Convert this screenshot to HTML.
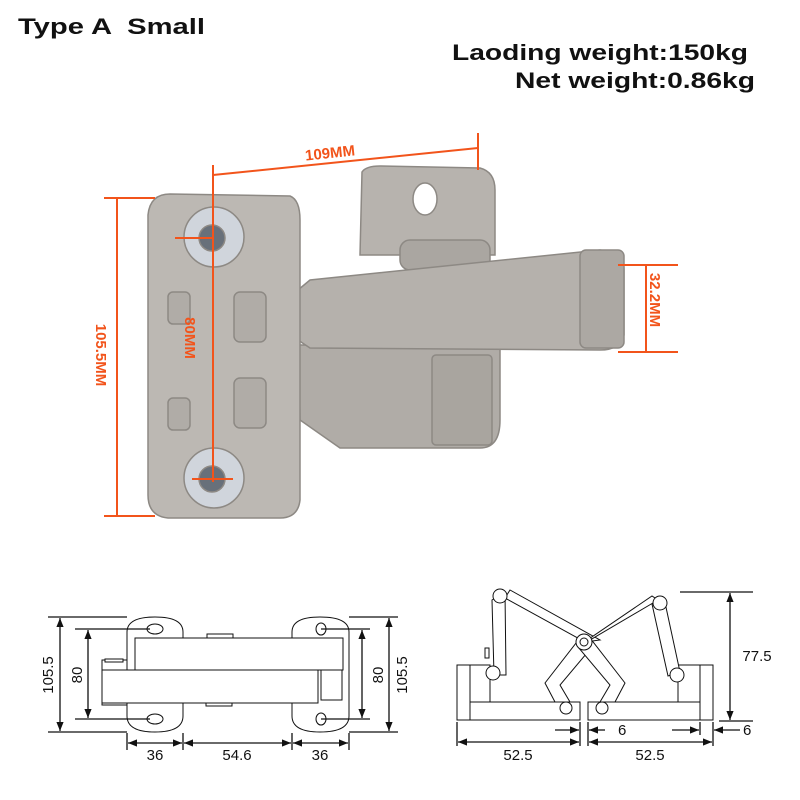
<!DOCTYPE html>
<html><head><style>
html,body{margin:0;padding:0;background:#fff;width:800px;height:800px;overflow:hidden}
svg{display:block}
text{font-family:"Liberation Sans","DejaVu Sans",sans-serif}
</style></head><body>
<svg width="800" height="800" viewBox="0 0 800 800" xmlns="http://www.w3.org/2000/svg">
<defs>
<marker id="a" viewBox="0 0 10 10" refX="10" refY="5" markerWidth="7" markerHeight="7" orient="auto-start-reverse"><path d="M0 1 L10 5 L0 9 Z" fill="#111"/></marker>
</defs>
<text x="18" y="34" font-size="22" font-weight="bold" fill="#111" textLength="187" lengthAdjust="spacingAndGlyphs" xml:space="preserve">Type A  Small</text>
<text x="452" y="60" font-size="22" font-weight="bold" fill="#111" textLength="296" lengthAdjust="spacingAndGlyphs">Laoding weight:150kg</text>
<text x="515" y="88" font-size="22" font-weight="bold" fill="#111" textLength="240" lengthAdjust="spacingAndGlyphs">Net weight:0.86kg</text>

<!-- hinge photo -->
<g stroke="#8d8984" stroke-width="1.5">
<path d="M362 172 Q366 166 380 166 L480 168 Q495 172 495 190 L495 255 L360 255 Z" fill="#b7b3ae"/>
<ellipse cx="425" cy="199" rx="12" ry="16" fill="#fff"/>
<rect x="400" y="240" width="90" height="30" rx="10" fill="#aaa6a1"/>
<path d="M298 300 L298 330 L300 345 L500 345 L500 420 Q500 448 480 448 L340 448 L300 420 Z" fill="#b0aca7"/>
<rect x="432" y="355" width="60" height="90" rx="4" fill="#a9a59f"/>
<path d="M298 290 L310 280 L600 250 Q624 252 624 270 L624 335 Q620 350 600 350 L310 348 L298 340 Z" fill="#b5b1ac"/>
<rect x="580" y="250" width="44" height="98" rx="6" fill="#aca8a3"/>
<path d="M170 194 L290 196 Q300 200 300 220 L300 500 Q298 518 280 518 L168 518 Q148 516 148 495 L148 215 Q150 194 170 194 Z" fill="#bcb8b3"/>
<circle cx="214" cy="237" r="30" fill="#d0d5dc"/>
<circle cx="212" cy="238" r="13" fill="#68707a"/>
<circle cx="214" cy="478" r="30" fill="#d0d5dc"/>
<circle cx="212" cy="479" r="13" fill="#68707a"/>
<rect x="168" y="292" width="22" height="32" rx="5" fill="#b0aca7"/>
<rect x="234" y="292" width="32" height="50" rx="6" fill="#b0aca7"/>
<rect x="234" y="378" width="32" height="50" rx="6" fill="#b0aca7"/>
<rect x="168" y="398" width="22" height="32" rx="5" fill="#b0aca7"/>
</g>

<!-- orange dims -->
<g stroke="#f2541b" stroke-width="2" fill="none">
<line x1="213" y1="165" x2="213" y2="482"/>
<line x1="478" y1="133" x2="478" y2="170"/>
<line x1="213" y1="175" x2="478" y2="148"/>
<line x1="117" y1="198" x2="117" y2="516"/>
<line x1="104" y1="198" x2="155" y2="198"/>
<line x1="104" y1="516" x2="155" y2="516"/>
<line x1="175" y1="238" x2="213" y2="238"/>
<line x1="192" y1="479" x2="233" y2="479"/>
<line x1="646" y1="265" x2="646" y2="352"/>
<line x1="618" y1="265" x2="678" y2="265"/>
<line x1="618" y1="352" x2="678" y2="352"/>
</g>
<g fill="#f2541b" font-size="15" font-weight="bold">
<text x="305" y="158" transform="rotate(-6 330 153)">109MM</text>
<text transform="translate(185,338) rotate(90)" text-anchor="middle">80MM</text>
<text transform="translate(96,355) rotate(90)" text-anchor="middle">105.5MM</text>
<text transform="translate(650,300) rotate(90)" text-anchor="middle">32.2MM</text>
</g>

<!-- bottom-left drawing -->
<g stroke="#111" stroke-width="1" fill="#fff">
<rect x="102" y="660" width="40" height="45"/>
<path d="M127 632 Q127 617 155 617 Q183 617 183 632 L183 716 Q183 732 155 732 Q127 732 127 716 Z"/>
<path d="M292 632 Q292 617 320 617 Q349 617 349 632 L349 716 Q349 732 320 732 Q292 732 292 716 Z"/>
<rect x="207" y="634" width="26" height="5"/>
<rect x="206" y="702" width="26" height="4"/>
<rect x="135" y="638" width="208" height="32"/>
<rect x="102" y="670" width="216" height="33"/>
<rect x="105" y="659" width="18" height="3"/>
<rect x="321" y="670" width="21" height="30"/>
<ellipse cx="155" cy="629" rx="8" ry="5"/>
<ellipse cx="155" cy="719" rx="8" ry="5"/>
<ellipse cx="321" cy="629" rx="5" ry="6"/>
<ellipse cx="321" cy="719" rx="5" ry="6"/>
</g>
<g stroke="#111" stroke-width="1.3" fill="none">
<line x1="48" y1="617" x2="127" y2="617"/><line x1="48" y1="732" x2="127" y2="732"/>
<line x1="60" y1="618" x2="60" y2="731" marker-start="url(#a)" marker-end="url(#a)"/>
<line x1="75" y1="629" x2="150" y2="629"/><line x1="75" y1="719" x2="150" y2="719"/>
<line x1="88" y1="630" x2="88" y2="718" marker-start="url(#a)" marker-end="url(#a)"/>
<line x1="349" y1="617" x2="398" y2="617"/><line x1="349" y1="732" x2="398" y2="732"/>
<line x1="389" y1="618" x2="389" y2="731" marker-start="url(#a)" marker-end="url(#a)"/>
<line x1="321" y1="629" x2="370" y2="629"/><line x1="321" y1="719" x2="370" y2="719"/>
<line x1="362" y1="630" x2="362" y2="718" marker-start="url(#a)" marker-end="url(#a)"/>
<line x1="127" y1="733" x2="127" y2="750"/><line x1="183" y1="733" x2="183" y2="750"/>
<line x1="292" y1="733" x2="292" y2="750"/><line x1="349" y1="733" x2="349" y2="750"/>
<line x1="128" y1="743" x2="182" y2="743" marker-start="url(#a)" marker-end="url(#a)"/>
<line x1="184" y1="743" x2="291" y2="743" marker-start="url(#a)" marker-end="url(#a)"/>
<line x1="293" y1="743" x2="348" y2="743" marker-start="url(#a)" marker-end="url(#a)"/>
</g>
<g font-size="15" fill="#111" text-anchor="middle">
<text transform="translate(53,675) rotate(-90)">105.5</text>
<text transform="translate(82,675) rotate(-90)">80</text>
<text transform="translate(383,675) rotate(-90)">80</text>
<text transform="translate(407,675) rotate(-90)">105.5</text>
<text x="155" y="760">36</text><text x="237" y="760">54.6</text><text x="320" y="760">36</text>
</g>

<!-- bottom-right drawing -->
<g stroke="#111" stroke-width="1" fill="#fff">
<rect x="457" y="665" width="13" height="55"/>
<rect x="470" y="665" width="20" height="37"/>
<rect x="470" y="702" width="110" height="18"/>
<rect x="700" y="665" width="13" height="55"/>
<rect x="678" y="665" width="22" height="37"/>
<rect x="588" y="702" width="112" height="18"/>
<path d="M545 683 L580 638 L592 647 L560 685 L570 702 L555 702 Z"/>
<path d="M625 683 L590 638 L578 647 L610 685 L600 702 L615 702 Z"/>
<path d="M505 598 L585 642 L600 640 L510 590 Z"/>
<path d="M658 600 L590 640 L580 645 L652 596 Z"/>
<path d="M492 600 L505 592 L506 675 L494 675 Z"/>
<path d="M652 604 L664 598 L680 672 L668 676 Z"/>
<rect x="485" y="648" width="4" height="10"/>
<circle cx="500" cy="596" r="7"/><circle cx="660" cy="603" r="7"/>
<circle cx="493" cy="673" r="7"/><circle cx="677" cy="675" r="7"/>
<circle cx="584" cy="642" r="8"/><circle cx="584" cy="642" r="4"/>
<circle cx="566" cy="708" r="6"/><circle cx="602" cy="708" r="6"/>
</g>
<g stroke="#111" stroke-width="1.3" fill="none">
<line x1="680" y1="592" x2="753" y2="592"/>
<line x1="719" y1="721" x2="753" y2="721"/>
<line x1="730" y1="593" x2="730" y2="720" marker-start="url(#a)" marker-end="url(#a)"/>
<line x1="457" y1="722" x2="457" y2="746"/><line x1="580" y1="722" x2="580" y2="746"/>
<line x1="588" y1="722" x2="588" y2="746"/><line x1="713" y1="722" x2="713" y2="746"/>
<line x1="700" y1="722" x2="700" y2="735"/>
<line x1="458" y1="742" x2="579" y2="742" marker-start="url(#a)" marker-end="url(#a)"/>
<line x1="589" y1="742" x2="712" y2="742" marker-start="url(#a)" marker-end="url(#a)"/>
<line x1="555" y1="730" x2="579" y2="730" marker-end="url(#a)"/>
<line x1="605" y1="730" x2="589" y2="730" marker-end="url(#a)"/>
<line x1="672" y1="730" x2="699" y2="730" marker-end="url(#a)"/>
<line x1="740" y1="730" x2="714" y2="730" marker-end="url(#a)"/>
</g>
<g font-size="15" fill="#111">
<text x="757" y="661" text-anchor="middle">77.5</text>
<text x="518" y="760" text-anchor="middle">52.5</text>
<text x="650" y="760" text-anchor="middle">52.5</text>
<text x="618" y="735">6</text>
<text x="743" y="735">6</text>
</g>
</svg>
</body></html>
